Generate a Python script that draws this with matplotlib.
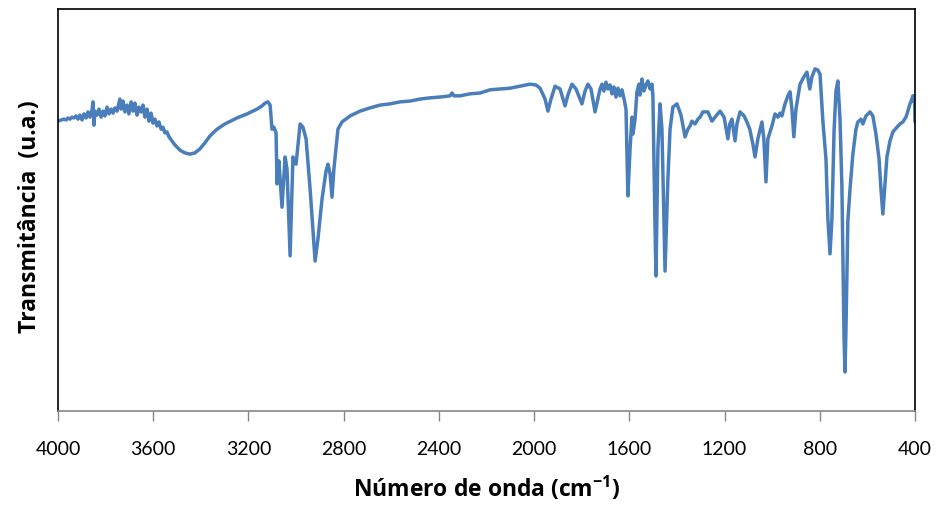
import matplotlib
matplotlib.use("Agg")
import matplotlib.pyplot as plt

plt.rcParams['font.family'] = ['Lato', 'DejaVu Sans']
plt.rcParams['mathtext.fontset'] = 'custom'
plt.rcParams['mathtext.rm'] = 'Open Sans'
plt.rcParams['mathtext.bf'] = 'Open Sans:bold'

wavenumber = [
    4000, 3987, 3975, 3966, 3958, 3950, 3941, 3933, 3924, 3916, 3908, 3899, 3891, 3882, 3874, 3866,
    3857, 3853, 3849, 3845, 3836, 3828, 3819, 3811, 3803, 3794, 3786, 3777, 3769, 3761, 3752, 3744,
    3740, 3735, 3727, 3719, 3710, 3702, 3693, 3685, 3677, 3668, 3660, 3651, 3643, 3635, 3626, 3618,
    3609, 3601, 3593, 3584, 3576, 3567, 3559, 3551, 3542, 3534, 3509, 3488, 3467, 3446, 3425, 3404,
    3383, 3362, 3332, 3299, 3248,
    3206, 3164, 3143, 3130, 3118, 3109, 3101, 3093, 3084, 3080, 3072, 3059, 3046, 3038, 3025, 3013,
    3000, 2983, 2971, 2958, 2941, 2920, 2908, 2891, 2874, 2866, 2857, 2849, 2841, 2824, 2807, 2773,
    2731, 2689, 2647, 2605, 2563, 2521, 2479, 2437, 2395, 2353, 2345, 2337, 2311, 2269, 2227, 2185,
    2143, 2101, 2059, 2017, 1992, 1975, 1954, 1942, 1929, 1912, 1891, 1870, 1858, 1841, 1824, 1799,
    1786, 1774, 1761, 1744, 1732, 1723, 1715, 1707, 1698, 1690, 1681, 1673, 1665, 1656, 1648, 1639,
    1631, 1622, 1614, 1606, 1597, 1589, 1585, 1576, 1568, 1560, 1555, 1547, 1539, 1530, 1522, 1513,
    1505, 1501, 1492, 1488, 1480, 1471, 1463, 1450, 1438, 1429, 1417, 1400, 1383, 1366, 1354, 1345,
    1337, 1324, 1312, 1303, 1291, 1270, 1253, 1236, 1219, 1202, 1186, 1178, 1169, 1156, 1148, 1135,
    1118, 1106, 1094, 1081, 1072, 1060, 1043, 1035, 1026, 1018, 1001, 988, 976, 967, 959, 946,
    934, 925, 917, 909, 900, 883, 867, 854, 842, 833, 820, 808, 799, 787, 774, 766,
    757, 749, 740, 732, 724, 715, 707, 698, 694, 690, 682, 673, 661, 648, 640, 627,
    619, 606, 589, 577, 564, 551, 543, 535, 526, 518, 505, 493, 476, 463, 451, 438,
    430, 421, 413, 409, 405, 402, 400,
]

transmittance = [
    72.1, 72.4, 72.6, 72.4, 72.9, 72.6, 73.1, 72.9, 73.4, 72.6, 73.6, 72.4, 73.9, 72.9, 74.4, 73.1,
    74.9, 76.9, 71.1, 74.6, 73.6, 75.1, 73.1, 74.6, 73.4, 75.6, 73.9, 75.1, 74.1, 75.4, 74.6, 76.6,
    77.6, 75.1, 77.1, 74.4, 76.1, 73.9, 76.9, 74.6, 76.6, 73.6, 75.6, 74.4, 76.1, 73.1, 75.1, 72.1,
    74.1, 71.6, 72.6, 70.9, 71.9, 70.1, 70.6, 69.2, 69.4, 68.2, 66.2, 64.9, 64.2, 63.9, 64.2, 65.2,
    66.7, 68.4, 70.1, 71.4, 72.9,
    73.9, 75.1, 75.9, 76.6, 76.9, 76.1, 70.1, 70.6, 69.2, 56.5, 62.2, 50.7, 63.2, 60.2, 38.6, 63.2,
    61.4, 71.4, 70.6, 67.7, 55.2, 37.3, 42.8, 52.7, 59.7, 61.4, 59.0, 53.2, 60.2, 70.1, 71.9, 73.4,
    74.6, 75.4, 76.1, 76.4, 76.9, 77.1, 77.6, 77.9, 78.1, 78.4, 79.1, 78.4, 78.4, 78.9, 79.1, 79.9,
    80.1, 80.3, 80.8, 81.3, 81.1, 80.3, 77.6, 74.6, 77.6, 80.8, 80.1, 75.9, 78.6, 81.3, 80.1, 76.4,
    79.6, 81.3, 80.1, 74.4, 77.6, 80.1, 81.3, 79.6, 81.8, 80.1, 81.1, 78.9, 80.6, 78.1, 80.3, 78.4,
    79.9, 77.6, 75.1, 53.5, 65.2, 73.1, 68.9, 72.6, 79.4, 81.3, 78.6, 82.6, 79.6, 81.1, 82.1, 80.1,
    81.3, 78.4, 45.3, 33.6, 65.2, 76.4, 70.1, 34.8, 57.7, 70.1, 75.6, 76.4, 73.6, 68.2, 70.1, 70.9,
    72.1, 71.4, 72.6, 73.1, 74.4, 74.4, 72.1, 73.4, 74.6, 73.1, 67.7, 71.4, 72.6, 67.2, 71.4, 74.4,
    73.4, 71.9, 70.1, 66.4, 63.2, 67.7, 71.9, 67.7, 57.0, 67.7, 70.9, 73.9, 73.1, 74.1, 73.4, 76.4,
    78.4, 79.4, 75.1, 68.2, 75.1, 81.3, 83.1, 84.3, 80.1, 83.1, 85.1, 84.8, 83.8, 72.1, 62.7, 47.8,
    39.1, 47.8, 69.7, 79.6, 82.1, 72.6, 55.7, 17.9, 9.7, 20.4, 47.3, 55.2, 63.9, 70.1, 71.9, 72.6,
    71.4, 73.4, 74.4, 73.4, 68.9, 62.7, 55.2, 49.0, 56.5, 63.2, 67.2, 69.4, 70.6, 71.4, 71.9, 73.1,
    74.6, 76.4, 77.6, 78.4, 76.9, 78.4, 71.9,
]

xticks = [4000, 3600, 3200, 2800, 2400, 2000, 1600, 1200, 800, 400]

fig = plt.figure(figsize=(9.4, 5.06), dpi=100)
ax = fig.add_axes([58/940, 1 - 412/506, (915 - 58)/940, (412 - 10)/506])

ax.plot(wavenumber, transmittance, color='#4A7EBB', linewidth=2.5,
        solid_joinstyle='round', solid_capstyle='round')

ax.set_xlim(4000, 400)
ax.set_ylim(0, 100)
ax.set_xticks(xticks)
ax.set_xticklabels([str(t) for t in xticks], fontsize=14)
ax.set_yticks([])
ax.tick_params(axis='x', direction='out', length=7, width=1, color='#868686', pad=14)

for side in ['left', 'right', 'top']:
    ax.spines[side].set_color('black')
    ax.spines[side].set_linewidth(1.2)
ax.spines['bottom'].set_color('#868686')
ax.spines['bottom'].set_linewidth(1.2)

label_font = dict(family=['Open Sans', 'DejaVu Sans'], fontsize=16.5, fontweight='bold')
ax.set_xlabel(r'Número de onda (cm$^{\mathbf{-1}}$)', labelpad=12, **label_font)
ax.set_ylabel('Transmitância  (u.a.)', **label_font)
ax.yaxis.set_label_coords(-0.019, 0.485)

fig.savefig('out.png', dpi=100)
